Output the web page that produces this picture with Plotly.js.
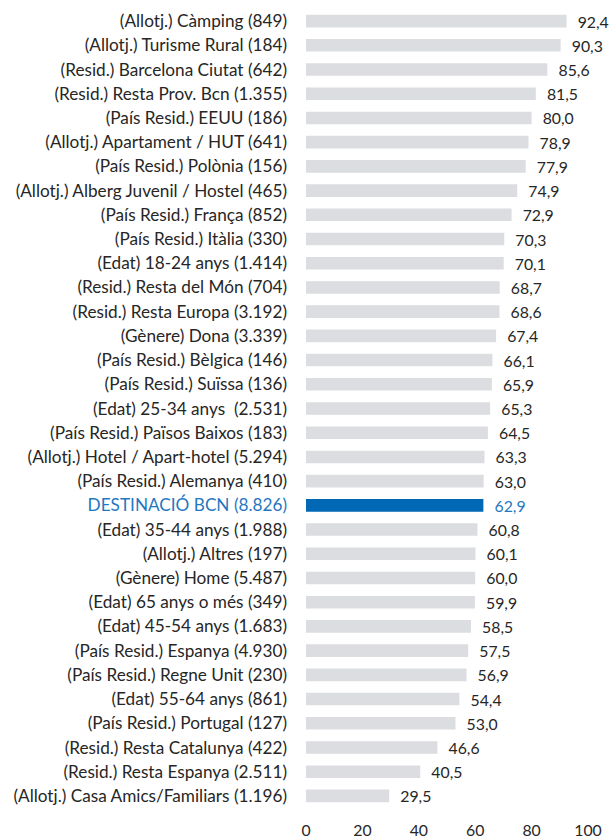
<!DOCTYPE html>
<html><head><meta charset="utf-8">
<script src="https://cdn.plot.ly/plotly-3.0.1.min.js"></script>
<style>html,body{margin:0;padding:0;background:#fff}</style>
</head><body>
<div id="chart" style="width:609px;height:840px"></div>
<script>
const categories = [
"(Allotj.) Càmping (849)",
"(Allotj.) Turisme Rural (184)",
"(Resid.) Barcelona Ciutat (642)",
"(Resid.) Resta Prov. Bcn (1.355)",
"(País Resid.) EEUU (186)",
"(Allotj.) Apartament / HUT (641)",
"(País Resid.) Polònia (156)",
"(Allotj.) Alberg Juvenil / Hostel (465)",
"(País Resid.) França (852)",
"(País Resid.) Itàlia (330)",
"(Edat) 18-24 anys (1.414)",
"(Resid.) Resta del Món (704)",
"(Resid.) Resta Europa (3.192)",
"(Gènere) Dona (3.339)",
"(País Resid.) Bèlgica (146)",
"(País Resid.) Suïssa (136)",
"(Edat) 25-34 anys  (2.531)",
"(País Resid.) Països Baixos (183)",
"(Allotj.) Hotel / Apart-hotel (5.294)",
"(País Resid.) Alemanya (410)",
"DESTINACIÓ BCN (8.826)",
"(Edat) 35-44 anys (1.988)",
"(Allotj.) Altres (197)",
"(Gènere) Home (5.487)",
"(Edat) 65 anys o més (349)",
"(Edat) 45-54 anys (1.683)",
"(País Resid.) Espanya (4.930)",
"(País Resid.) Regne Unit (230)",
"(Edat) 55-64 anys (861)",
"(País Resid.) Portugal (127)",
"(Resid.) Resta Catalunya (422)",
"(Resid.) Resta Espanya (2.511)",
"(Allotj.) Casa Amics/Familiars (1.196)"
];
const values = [92.4,90.3,85.6,81.5,80.0,78.9,77.9,74.9,72.9,70.3,70.1,68.7,68.6,67.4,66.1,65.9,65.3,64.5,63.3,63.0,62.9,60.8,60.1,60.0,59.9,58.5,57.5,56.9,54.4,53.0,46.6,40.5,29.5];
const highlight = "DESTINACIÓ BCN (8.826)";
const xTicks = [0,20,40,60,80,100];

const GRAY = "#dcdde0", BLUE = "#0068b4", TBLUE = "#1f78c1", TXT = "#262626";
const FONT = "Lato, sans-serif";
const FS = 17.2, VFS = 15.8;

const colors = categories.map(c => c === highlight ? BLUE : GRAY);
const textColors = categories.map(c => c === highlight ? TBLUE : TXT);
const tickText = categories.map(c => c === highlight ? `<span style="color:${TBLUE}">${c}</span>` : c);
const texts = values.map(v => "\u00a0\u00a0" + v.toFixed(1).replace(".", ","));

Plotly.newPlot("chart", [{
  type: "bar", orientation: "h",
  y: categories, x: values,
  marker: {color: colors},
  text: texts, textposition: "outside", cliponaxis: false, constraintext: "none",
  textfont: {family: FONT, size: VFS, color: textColors},
  hoverinfo: "skip", width: 0.52
}], {
  width: 609, height: 840,
  margin: {l: 306, r: 21, t: 9, b: 32},
  paper_bgcolor: "#fff", plot_bgcolor: "#fff",
  showlegend: false,
  font: {family: FONT, size: FS, color: TXT},
  xaxis: {range: [0, 100], tickvals: xTicks, ticktext: xTicks.map(String),
          showgrid: false, zeroline: false, showline: false, ticks: "",
          ticklabelstandoff: 11, tickfont: {family: FONT, size: VFS, color: TXT}, fixedrange: true},
  yaxis: {type: "category", autorange: "reversed", tickvals: categories, ticktext: tickText,
          showgrid: false, zeroline: false, showline: false, ticks: "",
          ticklabelstandoff: 18, tickfont: {family: FONT, size: FS, color: TXT}, fixedrange: true}
}, {displayModeBar: false, staticPlot: true});
</script>
</body></html>
